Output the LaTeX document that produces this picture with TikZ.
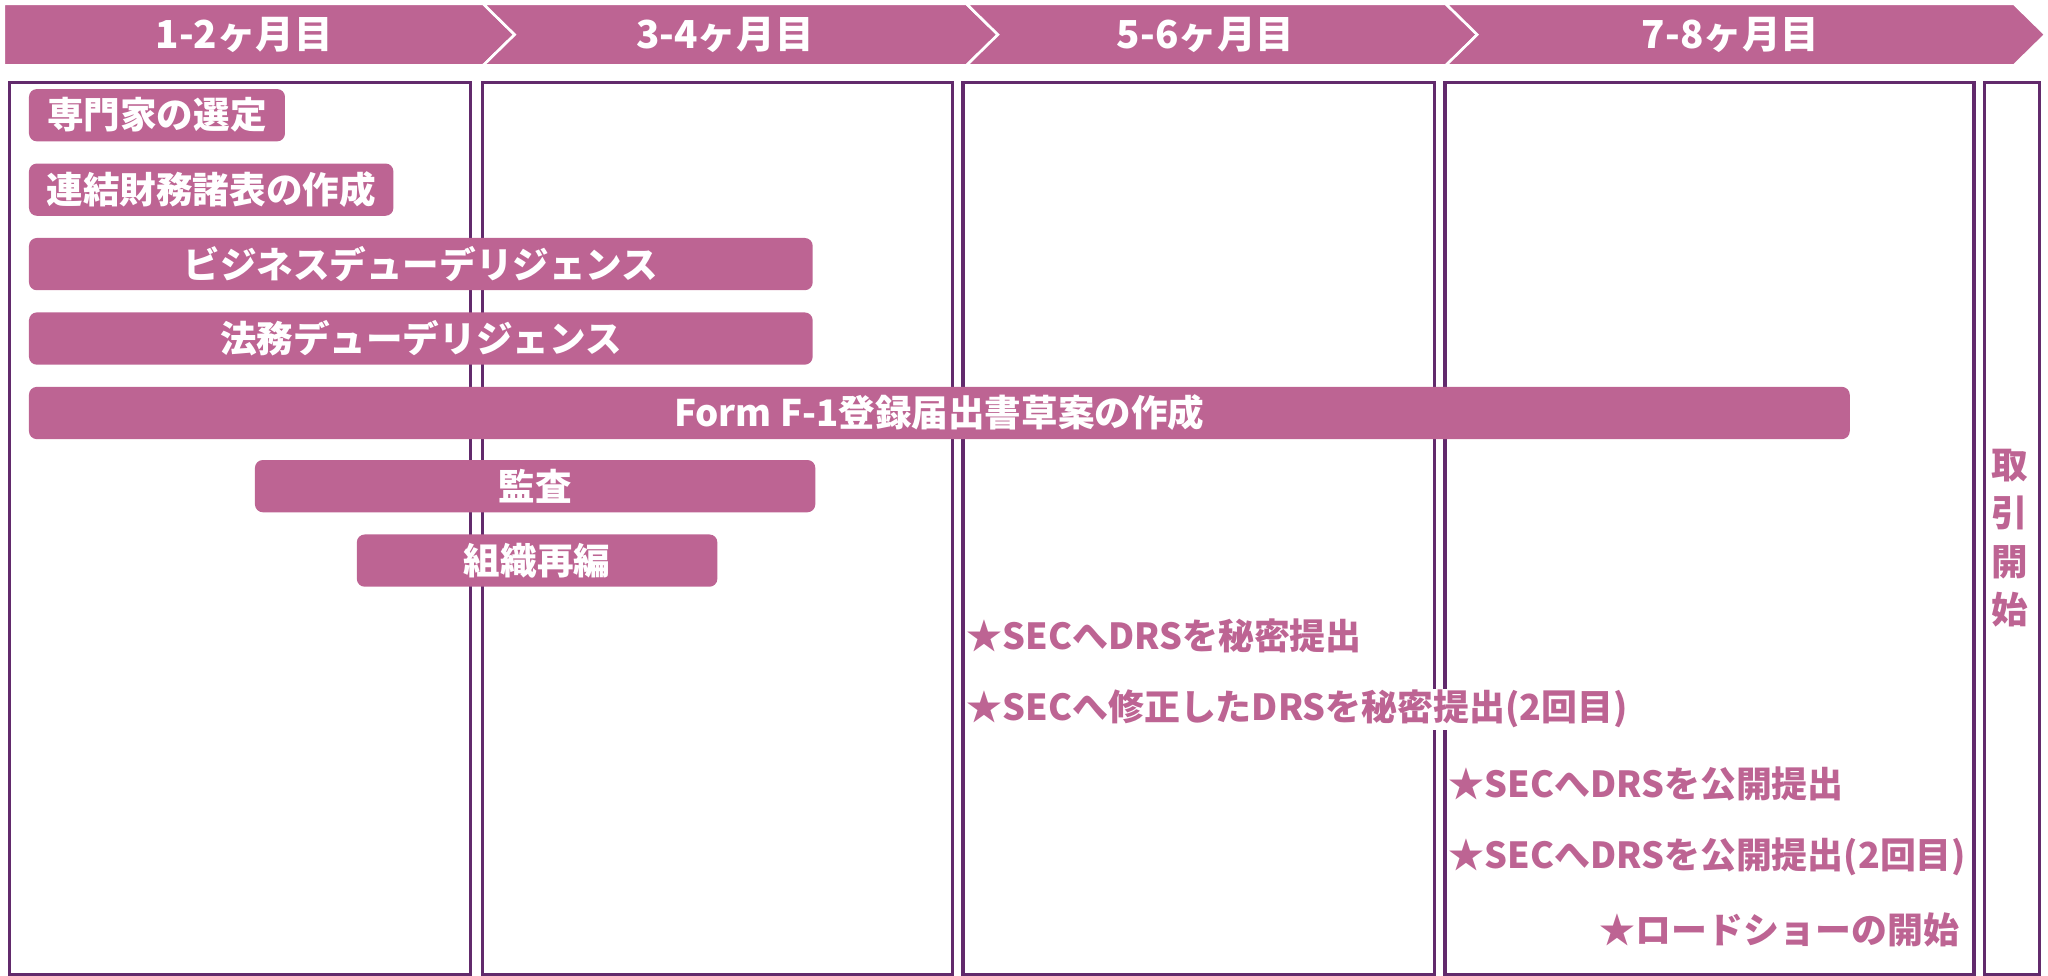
\documentclass[tikz,border=0pt]{standalone}
\usepackage{fontspec}
\setmainfont{Noto Sans CJK JP}
\usetikzlibrary{positioning}
\definecolor{barpink}{RGB}{189,100,147}
\definecolor{framepurple}{RGB}{98,42,108}

\begin{document}
\begin{tikzpicture}[
        x=1pt, y=-1pt,
        headseg/.style={fill=barpink, draw=white, line width=2pt},
        headlabel/.style={text=white, font=\fontsize{29.5}{34}\selectfont\bfseries},
        monthbox/.style={
            rectangle, draw=framepurple, line width=2.5pt, anchor=north west, inner sep=0pt
        },
        task/.style={
            rectangle, fill=barpink, rounded corners=6pt, anchor=north west,
            minimum height=40pt, inner sep=0pt, text=white,
            font=\fontsize{28}{32}\selectfont\bfseries
        },
        milestone/.style={
            fill=white, inner sep=1pt, text=barpink,
            font=\fontsize{27.5}{31}\selectfont\bfseries
        }
    ]
        \useasboundingbox (0,0) rectangle (1568,747);

        % Header chevrons
        \draw[headseg] (3,3) -- (370,3) -- (394,26.5) -- (370,50) -- (3,50) -- cycle;
        \draw[headseg] (370,3) -- (740,3) -- (764,26.5) -- (740,50) -- (370,50) -- (394,26.5) -- cycle;
        \draw[headseg] (740,3) -- (1107,3) -- (1131,26.5) -- (1107,50) -- (740,50) -- (764,26.5) -- cycle;
        \draw[headseg] (1107,3) -- (1542,3) -- (1566,26.5) -- (1542,50) -- (1107,50) -- (1131,26.5) -- cycle;
        \node[headlabel] (m12) at (187,26.5) {1-2ヶ月目};
        \node[headlabel] (m34) at (555,26.5) {3-4ヶ月目};
        \node[headlabel] (m56) at (923,26.5) {5-6ヶ月目};
        \node[headlabel] (m78) at (1325,26.5) {7-8ヶ月目};

        % Month columns
        \node[monthbox, minimum width=353pt, minimum height=683pt] (col12) at (6,62) {};
        \node[monthbox, minimum width=360pt, minimum height=683pt] (col34) at (368,62) {};
        \node[monthbox, minimum width=361pt, minimum height=683pt] (col56) at (736,62) {};
        \node[monthbox, minimum width=405pt, minimum height=683pt] (col78) at (1105,62) {};
        \node[monthbox, minimum width=42pt, minimum height=683pt] (listing) at (1518,62) {};
        \node[text=barpink, align=center, font=\fontsize{28}{37}\selectfont\bfseries] (start) at (1539,412) {取\\引\\開\\始};

        % Task bars
        \node[task, minimum width=196pt] (expert) at (22,68) {専門家の選定};
        \node[task, minimum width=279pt] (consol) at (22,125) {連結財務諸表の作成};
        \node[task, minimum width=600pt] (bizdd) at (22,182) {ビジネスデューデリジェンス};
        \node[task, minimum width=600pt] (legaldd) at (22,239) {法務デューデリジェンス};
        \node[task, minimum width=1394pt] (form) at (22,296) {Form F-1登録届出書草案の作成};
        \node[task, minimum width=429pt] (audit) at (195,352) {監査};
        \node[task, minimum width=276pt] (reorg) at (273,409) {組織再編};

        % Milestones
        \node[milestone, anchor=west] (drs1) at (739,487) {★SECへDRSを秘密提出};
        \node[milestone, anchor=west] (drs2) at (739,543) {★SECへ修正したDRSを秘密提出(2回目)};
        \node[milestone, anchor=west] (pub1) at (1108,600) {★SECへDRSを公開提出};
        \node[milestone, anchor=west] (pub2) at (1108,656) {★SECへDRSを公開提出(2回目)};
        \node[milestone, anchor=east] (road) at (1501,712) {★ロードショーの開始};

    \end{tikzpicture}
\end{document}
